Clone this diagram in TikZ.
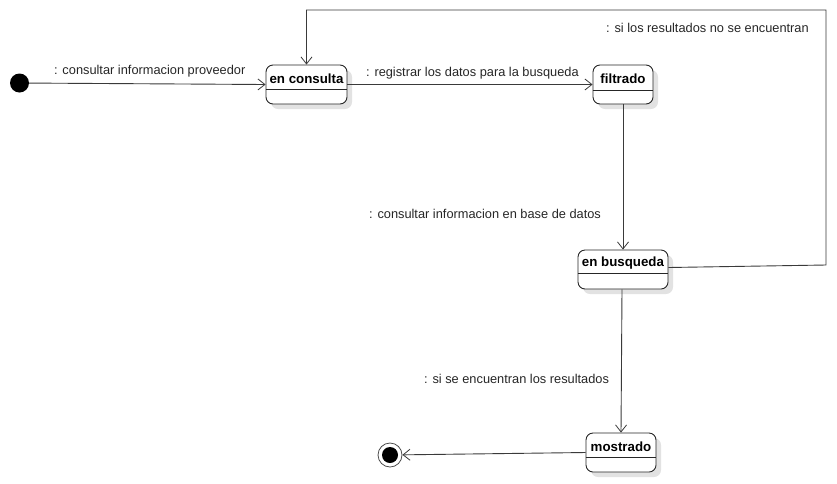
\documentclass[tikz,border=0pt]{standalone}
\usepackage{fontspec}
\setmainfont{Liberation Sans}
\usetikzlibrary{arrows.meta,shadows,calc}

\definecolor{edgegray}{HTML}{3A3A3A}
\definecolor{shadowgray}{HTML}{E2E2E2}

\tikzset{
  statebox/.style={draw=black!85, line width=0.9pt, fill=white, rounded corners=7pt,
    minimum height=39pt, inner sep=0pt,
    drop shadow={shadow xshift=5pt, shadow yshift=-5pt, fill=shadowgray, opacity=1}},
  statename/.style={font=\fontsize{13.3}{15}\selectfont\bfseries, inner sep=0pt},
  divider/.style={draw=black!85, line width=1.4pt},
  trans/.style={draw=edgegray, line width=0.9pt, -{Straight Barb[length=7pt,width=11pt,line width=0.8pt]}},
  translabel/.style={font=\fontsize{12.8}{15}\selectfont, text=black!85, inner sep=0pt, anchor=west},
  initstate/.style={circle, fill=black, minimum size=19pt, inner sep=0pt},
  finalouter/.style={circle, draw=black!70, line width=0.8pt, fill=white, minimum size=24pt, inner sep=0pt},
  finalinner/.style={circle, fill=black, minimum size=16pt, inner sep=0pt}
}

\begin{document}
\begin{tikzpicture}[x=1pt, y=-1pt]
  \useasboundingbox (0,0) rectangle (837,483);

  % initial and final pseudo-states
  \node[initstate] (init) at (19.5,83) {};
  \node[finalouter] (final) at (390,455) {};
  \node[finalinner] (finaldot) at (390,455) {};

  % states
  \node[statebox, minimum width=81pt] (cons) at (306.5,84.5) {};
  \node[statename] (consname) at (306.5,79) {en consulta};
  \draw[divider] ([yshift=-25pt]cons.north west) -- ([yshift=-25pt]cons.north east);

  \node[statebox, minimum width=60pt] (filt) at (623,84.5) {};
  \node[statename] (filtname) at (623,79) {filtrado};
  \draw[divider] ([yshift=-26pt]filt.north west) -- ([yshift=-26pt]filt.north east);

  \node[statebox, minimum width=90pt] (busq) at (623,269.5) {};
  \node[statename] (busqname) at (623,263) {en busqueda};
  \draw[divider] ([yshift=-24pt]busq.north west) -- ([yshift=-24pt]busq.north east);

  \node[statebox, minimum width=70pt] (most) at (621,452.5) {};
  \node[statename] (mostname) at (621,447) {mostrado};
  \draw[divider] ([yshift=-25pt]most.north west) -- ([yshift=-25pt]most.north east);

  % bends of the loop back to the first state
  \coordinate (loopA) at (826,265);
  \coordinate (loopB) at (826,10);

  % transitions
  \draw[trans] (init) -- (cons.west);
  \draw[trans] (cons.east) -- (filt.west);
  \draw[trans] (filt.south) -- (busq.north);
  \draw[trans] ([yshift=2pt]busq.east) -- (loopA) -- (loopB) -| (cons.north);
  \draw[trans] ([xshift=-1pt]busq.south) -- (most.north);
  \draw[trans] (most.west) -- (final);

  % transition labels
  \node[translabel] (l1) at (54,71) {: consultar informacion proveedor};
  \node[translabel] (l2) at (366,73) {: registrar los datos para la busqueda};
  \node[translabel] (l3) at (369,214) {: consultar informacion en base de datos};
  \node[translabel] (l4) at (606,28) {: si los resultados no se encuentran};
  \node[translabel] (l5) at (424,379) {: si se encuentran los resultados};
\end{tikzpicture}
\end{document}
